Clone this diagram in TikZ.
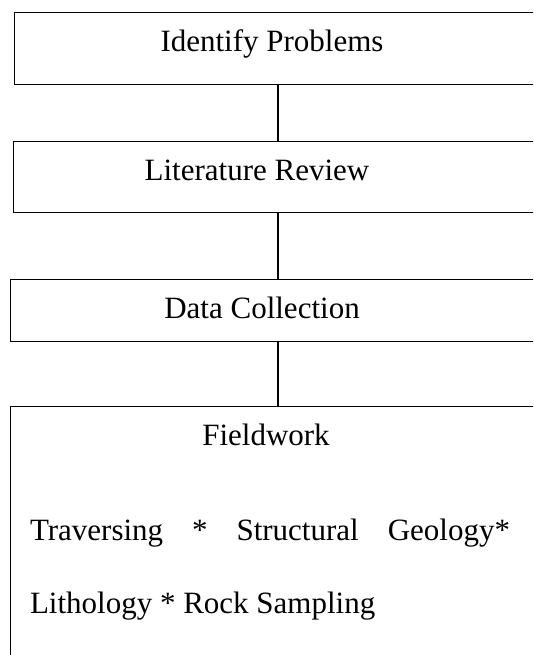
\documentclass[tikz,border=0pt]{standalone}
\usepackage{fontspec}
\setmainfont{Liberation Serif}
\usepackage{tikz}

\begin{document}
\begin{tikzpicture}[x=1pt, y=-1pt, every node/.style={inner sep=0pt, outer sep=0pt}]
	\tikzset{box/.style={draw, rectangle, line width=0.8pt, anchor=north west}}
	\tikzset{txt/.style={anchor=base, font=\fontsize{31}{37}\selectfont}}
	\clip (0,0) rectangle (533,655);
	\node[box, minimum width=528, minimum height=72]  (idp) at (14,12)  {};
	\node[box, minimum width=530, minimum height=71]  (lit) at (13,141) {};
	\node[box, minimum width=536, minimum height=62]  (dat) at (10,279) {};
	\node[box, minimum width=536, minimum height=270] (fld) at (10,406) {};
	\node[txt] (tidp) at (272,52)  {Identify Problems};
	\node[txt] (tlit) at (257,180) {Literature Review};
	\node[txt] (tdat) at (262,318) {Data Collection};
	\node[txt] (tfld) at (266,445) {Fieldwork};
	\node[txt, anchor=base west] (trav) at (30,540) {\makebox[480pt][s]{Traversing\hfill*\hfill Structural\hfill Geology*}};
	\node[txt, anchor=base west] (lith) at (30,613) {Lithology * Rock Sampling};
	\draw[line width=2pt] (idp) -- (lit);
	\draw[line width=2pt] (lit) -- (dat);
	\draw[line width=2pt] (dat) -- (fld);
\end{tikzpicture}
\end{document}
